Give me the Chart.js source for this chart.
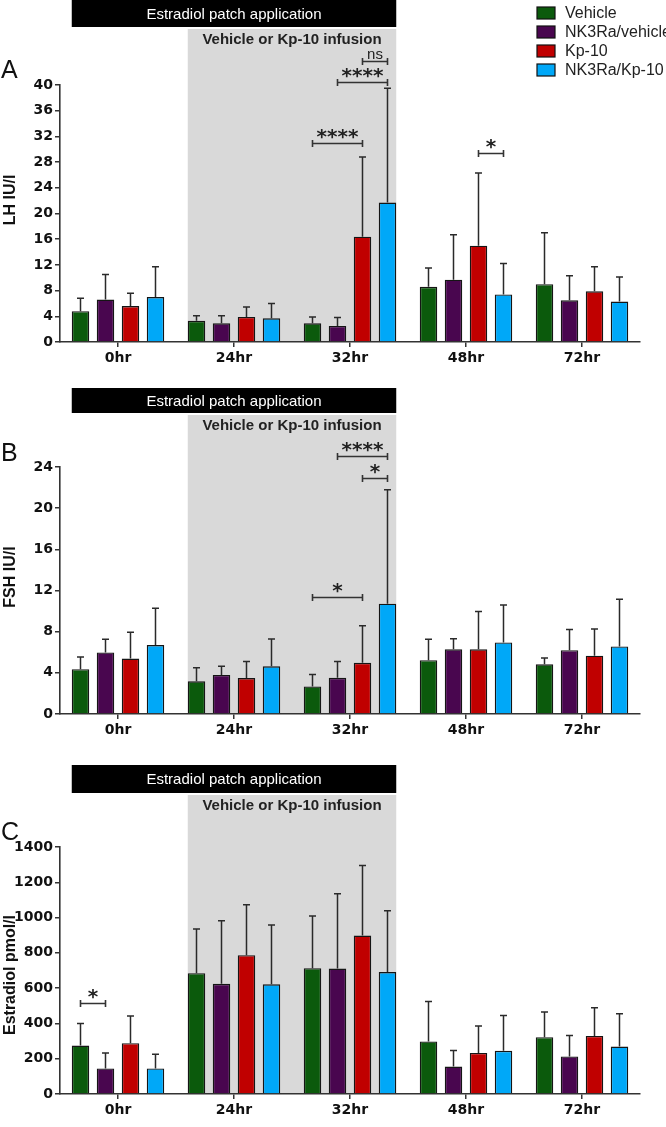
<!DOCTYPE html>
<html><head><meta charset="utf-8">
<script src="https://cdn.jsdelivr.net/npm/chart.js@4.4.1/dist/chart.umd.min.js"></script>
<style>
html,body{margin:0;padding:0;background:#fff;}
#wrap{position:relative;width:666px;height:1127px;overflow:hidden;background:#fff;}
canvas{position:absolute;left:0;}
</style></head><body>
<div id="wrap">
<canvas id="cA" style="top:0px"></canvas>
<canvas id="cB" style="top:375px"></canvas>
<canvas id="cC" style="top:750px"></canvas>
</div>
<script>
// ---------- data ----------
const categories = ['0hr', '24hr', '32hr', '48hr', '72hr'];
const seriesNames = ['Vehicle', 'NK3Ra/vehicle', 'Kp-10', 'NK3Ra/Kp-10'];
const seriesColors = ['#0b5a0c', '#49064f', '#c00000', '#00a8f8'];

// LH (IU/l): means and SD (upper whisker)
const lhVehicle      = [4.8, 3.3, 2.9, 8.6, 9.0];
const lhNK3RaVehicle = [6.6, 2.9, 2.5, 9.7, 6.5];
const lhKp10         = [5.6, 3.9, 16.4, 15.0, 7.9];
const lhNK3RaKp10    = [7.0, 3.7, 21.7, 7.4, 6.3];
const lhVehicleSD      = [2.0, 0.8, 1.0, 2.9, 8.0];
const lhNK3RaVehicleSD = [3.9, 1.2, 1.3, 7.0, 3.8];
const lhKp10SD         = [2.0, 1.55, 12.4, 11.3, 3.8];
const lhNK3RaKp10SD    = [4.7, 2.3, 17.8, 4.8, 3.8];
const lhTicks = {max: 40, step: 4};
// significance: [category index, from series, to series, bracket value, label]
const lhSig = [[2, 0, 2, 31.0, '****'], [2, 1, 3, 40.5, '****'], [2, 2, 3, 43.8, 'ns'], [3, 2, 3, 29.4, '*']];

// FSH (IU/l)
const fshVehicle      = [4.36, 3.18, 2.68, 5.23, 4.83];
const fshNK3RaVehicle = [5.98, 3.80, 3.52, 6.29, 6.20];
const fshKp10         = [5.39, 3.49, 4.98, 6.29, 5.67];
const fshNK3RaKp10    = [6.70, 4.64, 10.72, 6.95, 6.57];
const fshVehicleSD      = [1.18, 1.31, 1.15, 2.03, 0.62];
const fshNK3RaVehicleSD = [1.28, 0.84, 1.59, 1.03, 2.02];
const fshKp10SD         = [2.55, 1.62, 3.59, 3.68, 2.59];
const fshNK3RaKp10SD    = [3.58, 2.65, 11.08, 3.65, 4.58];
const fshTicks = {max: 24, step: 4};
const fshSig = [[2, 1, 3, 25.1, '****'], [2, 2, 3, 22.9, '*'], [2, 0, 2, 11.35, '*']];

// Estradiol (pmol/l)
const e2Vehicle      = [275, 685, 713, 298, 322];
const e2NK3RaVehicle = [145, 625, 711, 156, 213];
const e2Kp10         = [288, 787, 898, 233, 329];
const e2NK3RaKp10    = [145, 622, 691, 245, 269];
const e2VehicleSD      = [125, 250, 296, 226, 143];
const e2NK3RaVehicleSD = [87, 357, 424, 91, 118];
const e2Kp10SD         = [154, 286, 397, 152, 160];
const e2NK3RaKp10SD    = [80, 336, 347, 200, 186];
const e2Ticks = {max: 1400, step: 200};
const e2Sig = [[0, 0, 1, 515, '*']];

const bannerText = 'Estradiol patch application';
const infusionText = 'Vehicle or Kp-10 infusion';

// ---------- drawing ----------
const W = 666;
const decor = {
  id: 'decor',
  beforeDraw(chart, args, o) {
    const ctx = chart.ctx, ca = chart.chartArea;
    const m0 = chart.getDatasetMeta(0).data, m3 = chart.getDatasetMeta(3).data;
    const first = m0[0].getProps(['x', 'width'], true);
    const g0 = m0[1].getProps(['x', 'width'], true);
    const g1 = m3[2].getProps(['x', 'width'], true);
    const bl = first.x - first.width / 2, gl = g0.x - g0.width / 2, gr = g1.x + g1.width / 2;
    ctx.save();
    ctx.fillStyle = '#d9d9d9';
    ctx.fillRect(gl, o.greyTop, gr - gl, ca.bottom - o.greyTop);
    ctx.fillStyle = '#000';
    ctx.fillRect(bl, o.bannerTop, gr - bl, o.bannerBottom - o.bannerTop);
    ctx.fillStyle = '#fff';
    ctx.font = '15px "Liberation Sans", Arial, sans-serif';
    ctx.textAlign = 'center'; ctx.textBaseline = 'middle';
    ctx.fillText(bannerText, (bl + gr) / 2, (o.bannerTop + o.bannerBottom) / 2 + 1);
    ctx.fillStyle = '#222';
    ctx.font = 'bold 15px "Liberation Sans", Arial, sans-serif';
    ctx.fillText(infusionText, (gl + gr) / 2, o.greyTop + 11);
    // panel letter
    ctx.fillStyle = '#111';
    ctx.textAlign = 'left'; ctx.textBaseline = 'alphabetic';
    ctx.font = '25px "Liberation Sans", Arial, sans-serif';
    ctx.fillText(o.letter, 1, o.letterBase);
    // y title
    ctx.save();
    ctx.translate(11, o.titleCenter);
    ctx.rotate(-Math.PI / 2);
    ctx.font = 'bold 16px "Liberation Sans", Arial, sans-serif';
    ctx.textAlign = 'center'; ctx.textBaseline = 'middle';
    ctx.fillText(o.yTitle, 0, 0);
    ctx.restore();
    // legend
    if (o.legend) {
      ctx.font = '16px "Liberation Sans", Arial, sans-serif';
      ctx.textBaseline = 'middle';
      chart.data.datasets.forEach((ds, i) => {
        const cy = 13 + i * 19;
        ctx.fillStyle = ds.backgroundColor;
        ctx.fillRect(537, cy - 6, 18, 12);
        ctx.strokeStyle = '#111'; ctx.lineWidth = 1.2;
        ctx.strokeRect(537, cy - 6, 18, 12);
        ctx.fillStyle = '#222';
        ctx.fillText(ds.label, 565, cy + 1);
      });
    }
    ctx.restore();
  },
  afterDatasetsDraw(chart, args, o) {
    const ctx = chart.ctx, ys = chart.scales.y;
    ctx.save();
    ctx.strokeStyle = '#2a2a2a'; ctx.lineWidth = 1.5;
    chart.data.datasets.forEach((ds, i) => {
      chart.getDatasetMeta(i).data.forEach((el, j) => {
        const p = el.getProps(['x', 'y'], true);
        const yt = ys.getPixelForValue(ds.data[j] + ds.sd[j]);
        ctx.beginPath();
        ctx.moveTo(p.x, p.y); ctx.lineTo(p.x, yt);
        ctx.moveTo(p.x - 3.5, yt); ctx.lineTo(p.x + 3.5, yt);
        ctx.stroke();
      });
    });
    // significance brackets
    o.sig.forEach(s => {
      const x1 = chart.getDatasetMeta(s[1]).data[s[0]].x;
      const x2 = chart.getDatasetMeta(s[2]).data[s[0]].x;
      const y = Math.round(ys.getPixelForValue(s[3])) + 0.5;
      ctx.strokeStyle = '#333'; ctx.lineWidth = 1.6;
      ctx.beginPath();
      ctx.moveTo(x1, y); ctx.lineTo(x2, y);
      ctx.moveTo(x1, y - 3.5); ctx.lineTo(x1, y + 3.5);
      ctx.moveTo(x2, y - 3.5); ctx.lineTo(x2, y + 3.5);
      ctx.stroke();
      ctx.fillStyle = '#222';
      ctx.textAlign = 'center'; ctx.textBaseline = 'alphabetic';
      if (s[4] === 'ns') {
        ctx.font = '15px "Liberation Sans", Arial, sans-serif';
        ctx.fillText(s[4], (x1 + x2) / 2, y - 3);
      } else {
        ctx.font = 'bold 20px "DejaVu Sans", sans-serif';
        ctx.fillText(s[4], (x1 + x2) / 2, y - 1);
      }
    });
    ctx.restore();
  }
};

function makePanel(id, h, cfg) {
  const cv = document.getElementById(id);
  cv.width = W; cv.height = h;
  cv.style.width = W + 'px'; cv.style.height = h + 'px';
  const tickFont = {family: '"DejaVu Sans", sans-serif', weight: 'bold', size: 14};
  return new Chart(cv, {
    type: 'bar',
    data: {
      labels: categories,
      datasets: seriesNames.map((n, i) => ({
        label: n, data: cfg.means[i], sd: cfg.sds[i],
        backgroundColor: seriesColors[i], borderColor: '#151515', borderWidth: 1.4,
        categoryPercentage: 0.862, barPercentage: 0.7
      }))
    },
    options: {
      responsive: false, animation: false, devicePixelRatio: 1,
      layout: {padding: {top: cfg.top, right: 26, left: 0, bottom: 0}},
      plugins: {legend: {display: false}, tooltip: {enabled: false},
        decor: cfg.decor},
      scales: {
        x: {
          offset: true,
          grid: {display: true, drawOnChartArea: false, drawTicks: true, tickLength: 5, offset: false, color: '#333', lineWidth: 1.5},
          border: {display: true, color: '#333', width: 1.6},
          ticks: {font: tickFont, color: '#111', padding: 3, maxRotation: 0},
          afterFit(s) { s.height = cfg.xAxisH; }
        },
        y: {
          min: 0, max: cfg.ticks.max,
          grid: {display: true, drawOnChartArea: false, drawTicks: true, tickLength: 5, color: '#333', lineWidth: 1.5},
          border: {display: true, color: '#333', width: 1.6},
          ticks: {stepSize: cfg.ticks.step, font: tickFont, color: '#111', padding: 2,
                  callback: v => String(v)},
          afterFit(s) { s.width = 60; }
        }
      }
    },
    plugins: [decor]
  });
}

makePanel('cA', 375, {
  means: [lhVehicle, lhNK3RaVehicle, lhKp10, lhNK3RaKp10],
  sds: [lhVehicleSD, lhNK3RaVehicleSD, lhKp10SD, lhNK3RaKp10SD],
  ticks: lhTicks, top: 85, xAxisH: 33,
  decor: {letter: 'A', yTitle: 'LH IU/l', bannerTop: 0, bannerBottom: 27, greyTop: 29,
          titleCenter: 200, letterBase: 78, legend: true, sig: lhSig}
});
makePanel('cB', 375, {
  means: [fshVehicle, fshNK3RaVehicle, fshKp10, fshNK3RaKp10],
  sds: [fshVehicleSD, fshNK3RaVehicleSD, fshKp10SD, fshNK3RaKp10SD],
  ticks: fshTicks, top: 92, xAxisH: 36,
  decor: {letter: 'B', yTitle: 'FSH IU/l', bannerTop: 13, bannerBottom: 38, greyTop: 40,
          titleCenter: 202, letterBase: 86, legend: false, sig: fshSig}
});
makePanel('cC', 377, {
  means: [e2Vehicle, e2NK3RaVehicle, e2Kp10, e2NK3RaKp10],
  sds: [e2VehicleSD, e2NK3RaVehicleSD, e2Kp10SD, e2NK3RaKp10SD],
  ticks: e2Ticks, top: 97, xAxisH: 33,
  decor: {letter: 'C', yTitle: 'Estradiol pmol/l', bannerTop: 15, bannerBottom: 43, greyTop: 45,
          titleCenter: 225, letterBase: 90, legend: false, sig: e2Sig}
});
</script>
</body></html>
